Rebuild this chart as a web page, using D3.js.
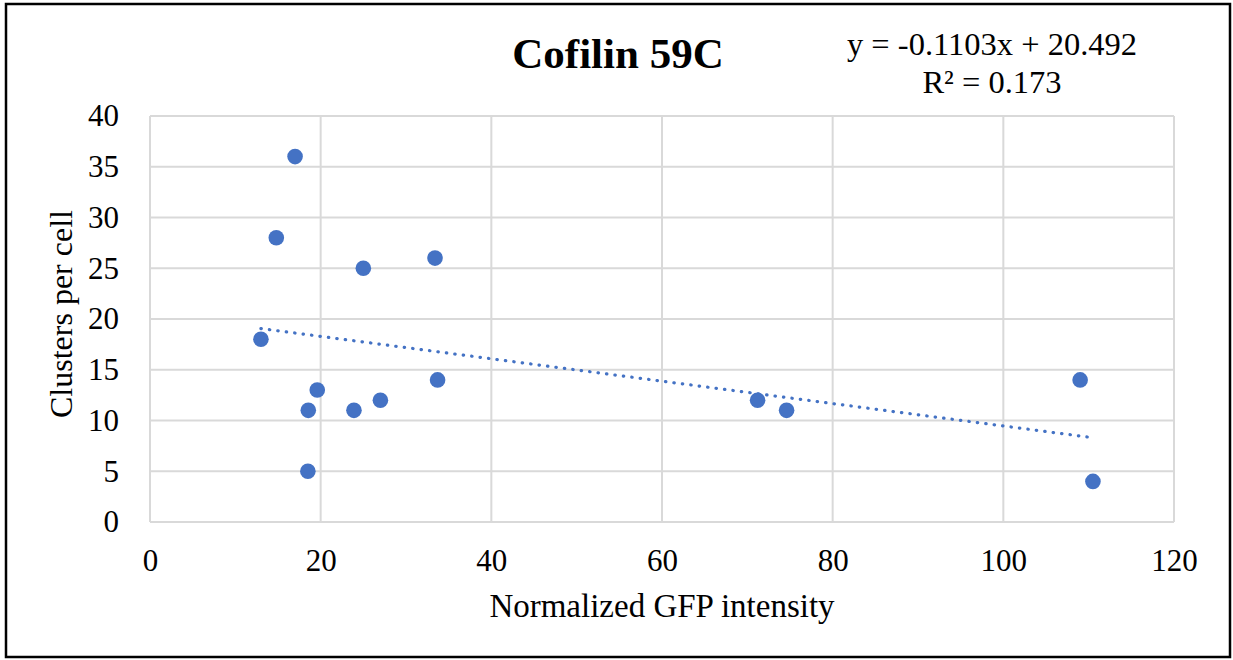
<!DOCTYPE html>
<html>
<head>
<meta charset="utf-8">
<script src="https://cdn.jsdelivr.net/npm/d3@7"></script>
<style>
  html, body { margin: 0; padding: 0; background: #fff; }
  svg { display: block; }
  text { font-family: "Liberation Serif", "Times New Roman", serif; fill: #000; }
</style>
</head>
<body>
<svg id="chart" width="1233" height="660"></svg>
<script>
// Normalized GFP intensity vs. clusters per cell
const gfpIntensity = [13.0, 14.8, 17.0, 18.55, 18.5, 19.6, 23.9, 25.0, 27.0, 33.4, 33.7, 71.2, 74.6, 109.0, 110.5];
const clustersPerCell = [18, 28, 36, 11, 5, 13, 11, 25, 12, 26, 14, 12, 11, 14, 4];

// Linear trendline
const trendSlope = -0.1103;
const trendIntercept = 20.492;
const trendLabel = ["y = -0.1103x + 20.492", "R² = 0.173"];

const xTicks = [0, 20, 40, 60, 80, 100, 120];
const yTicks = [0, 5, 10, 15, 20, 25, 30, 35, 40];

const chartTitle = "Cofilin 59C";
const xTitle = "Normalized GFP intensity";
const yTitle = "Clusters per cell";

const blue = "#4472C4";
const gridColor = "#d9d9d9";

const svg = d3.select("#chart");
const W = 1233, H = 660;
const plot = { left: 150, right: 1174, top: 116, bottom: 522 };

const x = d3.scaleLinear().domain([0, 120]).range([plot.left, plot.right]);
const y = d3.scaleLinear().domain([0, 40]).range([plot.bottom, plot.top]);

// outer frame
svg.append("rect")
  .attr("x", 6).attr("y", 4)
  .attr("width", W - 9).attr("height", H - 7)
  .attr("fill", "#fff").attr("stroke", "#000").attr("stroke-width", 2.5);

// gridlines
const grid = svg.append("g");
grid.selectAll("line.h").data(yTicks).join("line")
  .attr("x1", plot.left).attr("x2", plot.right)
  .attr("y1", d => y(d)).attr("y2", d => y(d))
  .attr("stroke", gridColor).attr("stroke-width", 2);
grid.selectAll("line.v").data(xTicks).join("line")
  .attr("y1", plot.top).attr("y2", plot.bottom)
  .attr("x1", d => x(d)).attr("x2", d => x(d))
  .attr("stroke", gridColor).attr("stroke-width", 2);

// axes (labels only; lines come from the grid)
const xAxis = svg.append("g")
  .attr("transform", `translate(0,${plot.bottom})`)
  .call(d3.axisBottom(x).tickValues(xTicks).tickSize(0).tickPadding(27).tickFormat(d3.format("d")));
xAxis.select(".domain").remove();
xAxis.selectAll("text").attr("font-size", 31).attr("font-family", "Liberation Serif").attr("fill", "#000");

const yAxis = svg.append("g")
  .attr("transform", `translate(${plot.left},0)`)
  .call(d3.axisLeft(y).tickValues(yTicks).tickSize(0).tickPadding(31).tickFormat(d3.format("d")));
yAxis.select(".domain").remove();
yAxis.selectAll("text").attr("font-size", 31).attr("font-family", "Liberation Serif").attr("fill", "#000");

// dotted trendline over the data range
const [xmin, xmax] = d3.extent(gfpIntensity);
const trendPts = [xmin, xmax].map(v => [x(v), y(trendSlope * v + trendIntercept)]);
svg.append("path")
  .attr("d", d3.line()(trendPts))
  .attr("fill", "none")
  .attr("stroke", blue)
  .attr("stroke-width", 3.2)
  .attr("stroke-linecap", "round")
  .attr("stroke-dasharray", "0.4,8.1");

// data points
svg.append("g").selectAll("circle")
  .data(gfpIntensity.map((v, i) => [v, clustersPerCell[i]]))
  .join("circle")
  .attr("cx", d => x(d[0]))
  .attr("cy", d => y(d[1]))
  .attr("r", 7.8)
  .attr("fill", blue);

// titles
svg.append("text")
  .attr("x", 618).attr("y", 68)
  .attr("text-anchor", "middle")
  .attr("font-size", 43).attr("font-weight", "bold")
  .text(chartTitle);

svg.append("text")
  .attr("x", 662).attr("y", 617)
  .attr("text-anchor", "middle")
  .attr("font-size", 33)
  .text(xTitle);

svg.append("text")
  .attr("transform", `translate(71.5,${(plot.top + plot.bottom) / 2 - 5}) rotate(-90)`)
  .attr("text-anchor", "middle")
  .attr("font-size", 32)
  .text(yTitle);

// trendline equation
svg.append("g").selectAll("text")
  .data(trendLabel).join("text")
  .attr("x", 992)
  .attr("y", (d, i) => 55 + i * 37.5)
  .attr("text-anchor", "middle")
  .attr("font-size", 32.5)
  .text(d => d);
</script>
</body>
</html>
